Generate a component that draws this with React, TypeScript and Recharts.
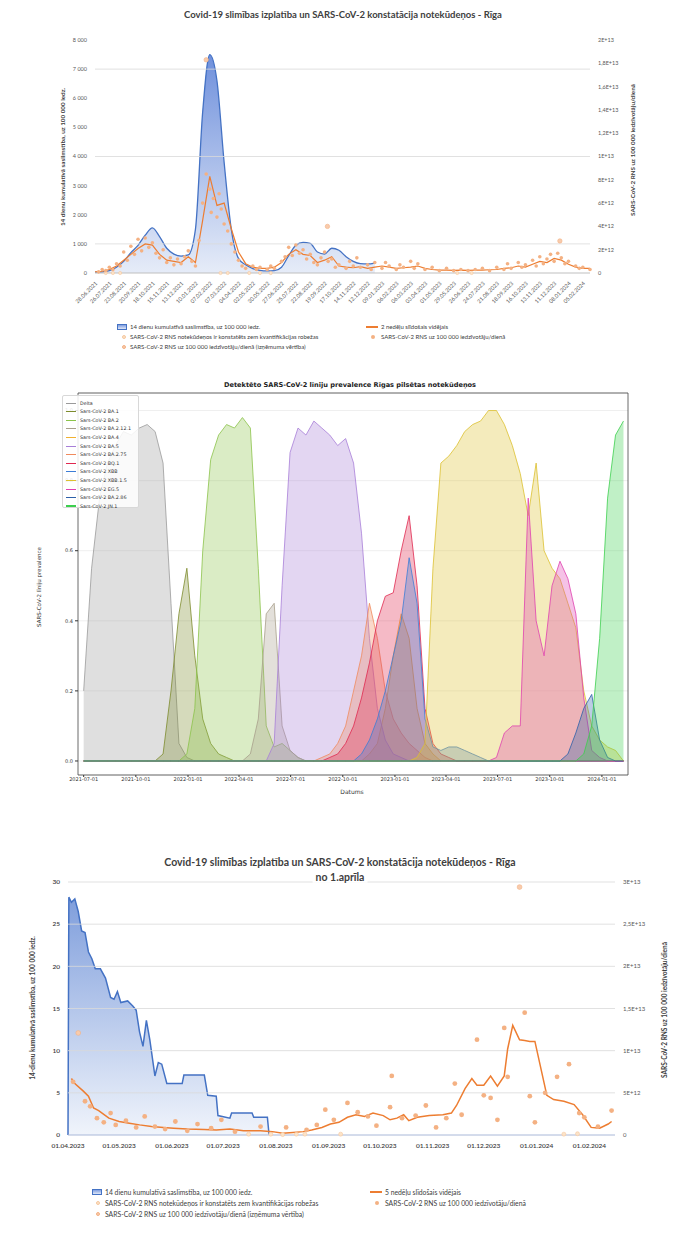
import React from "react"
import {
  Area,
  CartesianGrid,
  ComposedChart,
  Line,
  ReferenceArea,
  ReferenceLine,
  Scatter,
  XAxis,
  YAxis,
} from "recharts"

const DAY = 86400000

// ---------- chart 1: Covid-19 vs RNA, whole period (2-week steps from 28.06.2021)
const c1Start = "2021-06-28"
const c1Blue = [
  30, 40, 80, 200, 400, 700, 950, 1300, 1550, 1250, 850, 650, 580, 620, 1500, 5500, 7500, 6600, 3800, 1500,
  500, 280, 150, 90, 70, 80, 200, 600, 950, 1050, 1020, 720, 650, 850, 780, 560, 400, 320, 310, 340,
]
// RNA per 100 000 / day, in units of 1E+12
const c1Avg = [
  0.1, 0.15, 0.3, 0.6, 1.1, 1.6, 2.1, 2.5, 2.4, 1.6, 1.1, 1.0, 0.9, 1.4, 0.9, 4.5, 8.3, 5.8, 6.0, 3.8,
  1.8, 0.8, 0.5, 0.4, 0.4, 0.5, 0.9, 1.6, 2.0, 1.6, 1.5, 0.9, 1.1, 1.4, 0.6, 0.5, 0.45, 0.55, 0.4, 0.5,
  0.6, 0.5, 0.4, 0.45, 0.5, 0.6, 0.4, 0.3, 0.25, 0.25, 0.23, 0.25, 0.23, 0.25, 0.25, 0.28, 0.3, 0.4, 0.45, 0.6,
  0.5, 0.75, 1.0, 0.9, 1.25, 1.1, 0.75, 0.5, 0.4, 0.4,
]
const c1Rna: [number, number][] = [
  [0.5, 0.1], [1, 0.3], [1.5, 0.2], [2, 0.5], [2.5, 0.3], [3, 0.8], [3.5, 0.6], [4, 1.8], [4.5, 1.1], [5, 2.3],
  [5.5, 1.6], [6, 2.9], [6.5, 1.9], [7, 3.0], [7.5, 2.2], [8, 2.6], [8.5, 1.7], [9, 1.3], [9.5, 2.0], [10, 0.9],
  [10.5, 1.3], [11, 0.7], [11.5, 1.2], [12, 0.8], [12.5, 1.4], [13, 1.9], [13.5, 1.0], [14, 0.6], [14.5, 2.8], [15, 6.0],
  [15.5, 8.5], [16, 7.2], [16.2, 5.2], [16.5, 6.4], [17, 4.8], [17.3, 6.8], [17.6, 5.5], [18, 4.2], [18.5, 3.6], [19, 2.5],
  [19.5, 1.8], [20, 1.1], [20.5, 0.6], [21, 0.4], [22, 0.6], [22.5, 0.3], [23, 0.5], [24, 0.3], [24.5, 0.6], [25, 0.4],
  [26, 1.0], [26.5, 1.4], [27, 2.2], [27.5, 1.5], [28, 2.4], [28.5, 1.7], [29, 2.0], [29.5, 1.2], [30, 1.6], [30.5, 0.9],
  [31, 0.7], [31.5, 1.3], [32, 1.8], [32.5, 1.0], [33, 1.2], [33.5, 0.5], [34, 0.7], [35, 0.4], [35.5, 1.0], [36, 0.6],
  [36.5, 1.3], [37, 0.5], [38, 0.7], [38.5, 0.3], [39, 0.9], [40, 0.4], [40.5, 0.9], [41, 0.6], [42, 0.3], [42.5, 0.7],
  [43, 0.5], [44, 1.0], [44.5, 0.4], [45, 0.8], [46, 0.3], [47, 0.5], [48, 0.2], [49, 0.4], [50, 0.2], [51, 0.3],
  [52, 0.2], [53, 0.3], [54, 0.4], [55, 0.2], [56, 0.5], [57, 0.3], [57.5, 0.8], [58, 0.4], [59, 0.9], [59.5, 0.5],
  [60, 0.7], [61, 1.1], [61.5, 0.6], [62, 1.4], [62.5, 0.8], [63, 1.2], [63.5, 1.6], [64, 1.0], [64.5, 1.7], [65, 1.3],
  [65.5, 0.8], [66, 1.0], [67, 0.6], [67.5, 0.4], [68, 0.5], [69, 0.3],
]
const c1Out: [number, number][] = [[15.5, 18.3], [32.4, 4.0], [64.8, 2.75]]
const c1Lod: [number, number][] = [[1.5, 0], [2.5, 0], [3.5, 0], [17.5, 0], [18.5, 0], [21.5, 0], [23, 0], [24.5, 0], [50.5, 0], [52.5, 0]]
const c1LeftTicks = [0, 1000, 2000, 3000, 4000, 5000, 6000, 7000, 8000]
const c1RightTicks = [0, 2, 4, 6, 8, 10, 12, 14, 16, 18, 20]
const c1GridLines = [1000, 4000, 7000]

// ---------- chart 2: lineage prevalence (2-week steps from 2021-07-01)
const c2Start = "2021-07-01"
const c2TickLabels = [
  "2021-07-01", "2021-10-01", "2022-01-01", "2022-04-01", "2022-07-01", "2022-10-01",
  "2023-01-01", "2023-04-01", "2023-07-01", "2023-10-01", "2024-01-01",
]
const c2Names = [
  "Delta", "Sars-CoV-2 BA.1", "Sars-CoV-2 BA.2", "Sars-CoV-2 BA.2.12.1", "Sars-CoV-2 BA.4", "Sars-CoV-2 BA.5",
  "Sars-CoV-2 BA.2.75", "Sars-CoV-2 BQ.1", "Sars-CoV-2 XBB", "Sars-CoV-2 XBB.1.5", "Sars-CoV-2 EG.5",
  "Sars-CoV-2 BA.2.86", "Sars-CoV-2 JN.1",
]
const c2Colors = [
  "#9a9a9a", "#7d8c2d", "#8bc34a", "#a89f8c", "#f0b030", "#a87fd8",
  "#f08a5d", "#e0284f", "#3c7dd6", "#dcc030", "#e040b0", "#2d5fa8", "#3ccf4e",
]
const c2FirstStep = [0, 10, 13, 21, 36, 24, 30, 31, 35, 42, 52, 61, 63]
const delta = [0.2, 0.55, 0.75, 0.85, 0.9, 0.94, 0.93, 0.95, 0.96, 0.94, 0.85, 0.45, 0.05, 0.01]
const ba1 = [0.02, 0.2, 0.42, 0.55, 0.3, 0.12, 0.05, 0.02, 0.01]
const ba2 = [0.02, 0.15, 0.6, 0.86, 0.93, 0.96, 0.95, 0.98, 0.95, 0.55, 0.1, 0.04, 0.05, 0.03, 0.01]
const ba2121 = [0.02, 0.12, 0.42, 0.45, 0.1, 0.03, 0.01]
const ba4 = [0.02, 0.05, 0.15, 0.3, 0.42, 0.35, 0.15, 0.05, 0.02]
const ba5 = [0.05, 0.5, 0.88, 0.95, 0.93, 0.97, 0.95, 0.93, 0.9, 0.92, 0.85, 0.65, 0.35, 0.15, 0.06, 0.02, 0.01]
const ba275 = [0.01, 0.02, 0.05, 0.1, 0.2, 0.3, 0.45, 0.35, 0.2, 0.12, 0.08, 0.05, 0.03, 0.01]
const bq1 = [0.01, 0.02, 0.05, 0.1, 0.18, 0.28, 0.4, 0.47, 0.48, 0.6, 0.7, 0.5, 0.15, 0.05, 0.02, 0.01]
const xbb = [0.02, 0.06, 0.12, 0.2, 0.3, 0.4, 0.58, 0.45, 0.12, 0.04, 0.03, 0.04, 0.04, 0.03, 0.02, 0.01]
const xbb15 = [
  0.01, 0.05, 0.55, 0.85, 0.87, 0.9, 0.94, 0.96, 0.97, 1.0, 1.0, 0.96, 0.9, 0.82, 0.7, 0.85, 0.6, 0.55, 0.52, 0.45,
  0.38, 0.2, 0.1, 0.06, 0.04, 0.03,
]
const eg5 = [0.01, 0.08, 0.1, 0.1, 0.75, 0.4, 0.3, 0.5, 0.57, 0.52, 0.42, 0.18, 0.03, 0.01]
const ba286 = [0.02, 0.08, 0.15, 0.19, 0.06, 0.01]
const jn1 = [0.02, 0.1, 0.35, 0.75, 0.93, 0.97]
const c2Values = [delta, ba1, ba2, ba2121, ba4, ba5, ba275, bq1, xbb, xbb15, eg5, ba286, jn1]
const c2Steps = 69

// ---------- chart 3: from 1 April 2023 (day numbers from 01.04.2023)
const c3Start = "2023-04-01"
const c3TickLabels = [
  "01.04.2023", "01.05.2023", "01.06.2023", "01.07.2023", "01.08.2023", "01.09.2023",
  "01.10.2023", "01.11.2023", "01.12.2023", "01.01.2024", "01.02.2024",
]
const c3Blue: [number, number][] = [
  [0, 0], [0.5, 28.2], [2, 27.6], [4, 28], [6, 26.5], [8, 24.2], [10, 24], [12, 21.7], [14, 20.9], [16, 19.7],
  [19, 19.7], [22, 18.6], [25, 16.3], [27, 16.1], [29, 17], [31, 15.7], [35, 15.9], [38, 15.3], [40, 14.8], [42, 12.2],
  [44, 10.5], [46, 13.6], [48, 11.3], [51, 7], [53, 8.6], [55, 8.4], [58, 6.1], [67, 6.1], [68, 7.1], [80, 7.1],
  [82, 4.7], [87, 4.6], [88, 2.3], [95, 2.0], [96, 2.6], [108, 2.6], [109, 2.1], [117, 2.1], [118, 0],
]
const c3Avg: [number, number][] = [
  [2, 6.7], [4, 6.1], [9, 5.2], [12, 4.6], [15, 3.2], [18, 2.9], [22, 2.3], [24, 2.0], [30, 1.6], [36, 1.4],
  [42, 1.2], [49, 1.0], [56, 0.9], [62, 0.8], [70, 0.7], [80, 0.65], [87, 0.6], [95, 0.7], [103, 0.5], [113, 0.5],
  [120, 0.4], [126, 0.2], [132, 0.3], [138, 0.4], [143, 0.6], [149, 0.9], [154, 1.3], [159, 1.5], [164, 2.1], [169, 2.4],
  [174, 2.2], [179, 2.6], [185, 2.3], [189, 1.8], [193, 2.0], [197, 2.4], [200, 1.7], [205, 2.1], [212, 2.3], [220, 2.4],
  [225, 2.6], [228, 3.5], [233, 5.5], [237, 6.7], [240, 5.9], [244, 5.9], [248, 7.0], [252, 5.8], [256, 7.0], [258, 10.2],
  [261, 13.0], [265, 11.3], [268, 11.2], [271, 11.1], [274, 11.1], [281, 4.7], [285, 4.2], [291, 4.0], [297, 3.6], [302, 2.4],
  [307, 0.9], [312, 0.8], [317, 1.3], [319, 1.6],
]
const c3Rna: [number, number][] = [
  [3, 6.3], [10, 4.0], [13, 3.4], [17, 2.0], [21, 1.5], [25, 2.6], [28, 1.2], [34, 1.7], [40, 0.9], [45, 2.2],
  [51, 1.0], [57, 0.7], [63, 1.6], [70, 0.5], [76, 1.3], [84, 0.8], [90, 1.8], [98, 0.4], [113, 1.0],
  [128, 0.9], [140, 0.6], [146, 1.2], [151, 3.0], [156, 1.8], [164, 3.8], [170, 2.7], [176, 2.2], [181, 1.1],
  [189, 3.3], [190, 7.0], [196, 2.0], [204, 2.3], [210, 3.5], [216, 0.9], [222, 2.0], [227, 6.1], [231, 2.4],
  [240, 11.3], [244, 4.7], [248, 4.4], [252, 1.8], [256, 12.7], [258, 6.9], [268, 14.5], [271, 4.6], [274, 1.5],
  [280, 5.0], [287, 6.9], [294, 8.4], [300, 2.6], [303, 2.1], [311, 1.0], [319, 2.9],
]
const c3Out: [number, number][] = [[6, 12.1], [265, 29.4]]
const c3Lod: [number, number][] = [[106, 0.1], [119, 0.1], [126, 0.05], [134, 0.1], [139, 0.1], [160, 0.1], [291, 0.1], [299, 0.15]]
const c3LeftTicks = [0, 5, 10, 15, 20, 25, 30]
const c3RightTicks = [0, 5, 10, 15, 20, 25, 30]

// ---------- helpers
const dayOf = (s: string, from: string) => (Date.parse(s) - Date.parse(from)) / DAY

function fmtDate(ms: number) {
  const d = new Date(ms)
  const dd = String(d.getUTCDate()).padStart(2, "0")
  const mm = String(d.getUTCMonth() + 1).padStart(2, "0")
  return `${dd}.${mm}.${d.getUTCFullYear()}`
}

// value in 1E+12 units -> excel-ish label
function sci(v: number) {
  if (v === 0) return "0"
  if (v < 10) return `${v}E+12`
  return `${String(v / 10).replace(".", ",")}E+13`
}

const dot = (fill: string, r: number, stroke = "none") => (p: any) =>
  <circle cx={p.cx} cy={p.cy} r={r} fill={fill} stroke={stroke} strokeWidth={0.6} />

type TxtProps = {
  x: number
  y: number
  size: number
  children: React.ReactNode
  bold?: boolean
  color?: string
  rotate?: number
  family?: string
  start?: boolean
  bg?: boolean
}

function Txt(props: TxtProps) {
  const shift = props.start ? "translate(0,-50%)" : "translate(-50%,-50%)"
  return (
    <div
      style={{
        position: "absolute",
        left: props.x,
        top: props.y,
        fontSize: props.size,
        fontWeight: props.bold ? 700 : 400,
        color: props.color ?? "#404040",
        fontFamily: props.family,
        whiteSpace: "nowrap",
        lineHeight: 1,
        background: props.bg ? "#fff" : undefined,
        padding: props.bg ? "0 3px" : undefined,
        transform: `${shift}${props.rotate ? ` rotate(${props.rotate}deg)` : ""}`,
      }}
    >
      {props.children}
    </div>
  )
}

const blueBox = (x: number, y: number) => (
  <div style={{ position: "absolute", left: x, top: y - 3, width: 10, height: 6, background: "linear-gradient(#7f9ddf,#dfe7f7)", border: "1px solid #4472c4", boxSizing: "border-box" }} />
)
const orangeLine = (x: number, y: number) => (
  <div style={{ position: "absolute", left: x, top: y - 0.75, width: 12, height: 1.5, background: "#ed7d31" }} />
)
const legendDot = (x: number, y: number, color: string, border = "none") => (
  <div style={{ position: "absolute", left: x - 2, top: y - 2, width: 4, height: 4, borderRadius: 2, background: color, border, boxSizing: "border-box" }} />
)

// ---------- chart 1
function Chart1() {
  const t0 = Date.parse(c1Start)
  const rows = c1Avg.map((avg, i) => ({ i, avg, blue: i < c1Blue.length ? c1Blue[i] : undefined }))
  const ticks = rows.map((r) => r.i).filter((i) => i % 2 === 0)
  const pts = (a: [number, number][]) => a.map(([i, v]) => ({ i, v }))
  return (
    <ComposedChart width={681} height={320} data={rows} margin={{ top: 40, right: 0, bottom: 0, left: 0 }}>
      <defs>
        <linearGradient id="g1" x1="0" y1="0" x2="0" y2="1">
          <stop offset="0" stopColor="#6f90dc" />
          <stop offset="1" stopColor="#e6ecf8" />
        </linearGradient>
      </defs>
      <XAxis
        type="number"
        dataKey="i"
        domain={[0, c1Avg.length - 1]}
        ticks={ticks}
        interval={0}
        tickFormatter={(v: number) => fmtDate(t0 + v * 14 * DAY)}
        angle={-45}
        textAnchor="end"
        height={47}
        tick={{ fontSize: 5.5, fill: "#595959" }}
        tickLine={false}
        axisLine={{ stroke: "#bfbfbf" }}
      />
      <YAxis
        yAxisId="l"
        domain={[0, 8000]}
        ticks={c1LeftTicks}
        width={95}
        tickFormatter={(v: number) => (v === 0 ? "0" : `${v / 1000} 000`)}
        tick={{ fontSize: 5.5, fill: "#595959" }}
        tickLine={false}
        axisLine={false}
      />
      <YAxis
        yAxisId="r"
        orientation="right"
        domain={[0, 20]}
        ticks={c1RightTicks}
        width={91}
        tickFormatter={sci}
        tick={{ fontSize: 5.5, fill: "#595959" }}
        tickLine={false}
        axisLine={false}
      />
      {c1GridLines.map((v) => (
        <ReferenceLine key={v} yAxisId="l" y={v} stroke="#d9d9d9" strokeWidth={0.8} />
      ))}
      <Area yAxisId="l" dataKey="blue" type="monotone" stroke="#4472c4" strokeWidth={1.3} fill="url(#g1)" fillOpacity={1} isAnimationActive={false} dot={false} activeDot={false} />
      <Scatter yAxisId="r" data={pts(c1Lod)} dataKey="v" shape={dot("#fbe3c8", 1.6, "#f6c89f")} isAnimationActive={false} />
      <Scatter yAxisId="r" data={pts(c1Rna)} dataKey="v" shape={dot("#f4b183", 1.8)} isAnimationActive={false} />
      <Scatter yAxisId="r" data={pts(c1Out)} dataKey="v" shape={dot("#f8cbad", 2.2, "#f4b183")} isAnimationActive={false} />
      <Line yAxisId="r" dataKey="avg" type="linear" stroke="#ed7d31" strokeWidth={1.2} dot={false} activeDot={false} isAnimationActive={false} />
    </ComposedChart>
  )
}

// ---------- chart 2
function Chart2() {
  const rows = Array.from({ length: c2Steps }, (_, i) => {
    const row: Record<string, number> = { day: i * 14 }
    c2Values.forEach((vals, s) => {
      const k = i - c2FirstStep[s]
      row[`s${s}`] = k >= 0 && k < vals.length ? vals[k] : 0
    })
    return row
  })
  const tickDays = c2TickLabels.map((s) => dayOf(s, c2Start))
  return (
    <ComposedChart width={681} height={440} data={rows} margin={{ top: 28, right: 53, bottom: 0, left: 0 }}>
      <CartesianGrid vertical={false} stroke="#e4e4e4" strokeWidth={0.6} />
      <XAxis
        type="number"
        dataKey="day"
        domain={[-10, 960]}
        ticks={tickDays}
        interval={0}
        tickFormatter={(v: number) => c2TickLabels[tickDays.indexOf(v)] ?? ""}
        height={30}
        tick={{ fontSize: 5, fill: "#333" }}
        tickSize={2}
        tickMargin={0}
        tickLine={{ stroke: "#333" }}
        axisLine={false}
      />
      <YAxis
        domain={[-0.04, 1.05]}
        ticks={[0, 0.2, 0.4, 0.6, 0.8, 1.0]}
        tickFormatter={(v: number) => v.toFixed(1)}
        width={78}
        tick={{ fontSize: 5, fill: "#333" }}
        tickSize={3}
        tickLine={{ stroke: "#333" }}
        axisLine={false}
      />
      {c2Values.map((_, s) => (
        <Area
          key={s}
          dataKey={`s${s}`}
          type="linear"
          stroke={c2Colors[s]}
          strokeWidth={0.8}
          fill={c2Colors[s]}
          fillOpacity={0.32}
          dot={false}
          activeDot={false}
          isAnimationActive={false}
        />
      ))}
      <ReferenceArea x1={-10} x2={960} y1={-0.04} y2={1.05} fill="none" stroke="#444" strokeWidth={0.8} />
    </ComposedChart>
  )
}

function Chart2Legend() {
  return (
    <div style={{ position: "absolute", left: 62, top: 395, width: 77, height: 113, background: "rgba(255,255,255,0.85)", border: "1px solid #d8d8d8", borderRadius: 2, boxSizing: "border-box", fontFamily: "DejaVu Sans" }}>
      {c2Names.map((n, k) => (
        <div key={n} style={{ position: "absolute", left: 3, top: 3 + k * 8.6, height: 8, display: "flex", alignItems: "center" }}>
          <div style={{ width: 10, height: k === 12 ? 2 : 1, background: c2Colors[k], marginRight: 4 }} />
          <span style={{ fontSize: 4.8, color: "#333", whiteSpace: "nowrap" }}>{n}</span>
        </div>
      ))}
    </div>
  )
}

// ---------- chart 3
function Chart3() {
  const map = new Map<number, Record<string, number>>()
  const put = (d: number, k: string, v: number) => map.set(d, { ...(map.get(d) ?? { day: d }), [k]: v })
  c3Blue.forEach(([d, v]) => put(d, "blue", v))
  c3Avg.forEach(([d, v]) => put(d, "avg", v))
  const rows = [...map.values()].sort((a, b) => a.day - b.day)
  const tickDays = c3TickLabels.map((s) => {
    const [dd, mm, yy] = s.split(".")
    return dayOf(`${yy}-${mm}-${dd}`, c3Start)
  })
  const pts = (a: [number, number][]) => a.map(([day, v]) => ({ day, v }))
  return (
    <ComposedChart width={681} height={325} data={rows} margin={{ top: 40, right: 0, bottom: 0, left: 0 }}>
      <defs>
        <linearGradient id="g3" x1="0" y1="0" x2="0" y2="1">
          <stop offset="0" stopColor="#7f9edc" />
          <stop offset="1" stopColor="#f0f4fb" />
        </linearGradient>
      </defs>
      <XAxis
        type="number"
        dataKey="day"
        domain={[0, 321]}
        ticks={tickDays}
        interval={0}
        tickFormatter={(v: number) => c3TickLabels[tickDays.indexOf(v)] ?? ""}
        height={32}
        tick={{ fontSize: 6.5, fill: "#3a3a3a", fontWeight: 600 }}
        tickLine={false}
        axisLine={{ stroke: "#a9b8d8" }}
      />
      <YAxis
        yAxisId="l"
        domain={[0, 30]}
        ticks={c3LeftTicks}
        width={68}
        tick={{ fontSize: 6.5, fill: "#3a3a3a", fontWeight: 600 }}
        tickLine={false}
        axisLine={false}
      />
      <YAxis
        yAxisId="r"
        orientation="right"
        domain={[0, 30]}
        ticks={c3RightTicks}
        width={66}
        tickFormatter={sci}
        tick={{ fontSize: 6, fill: "#595959" }}
        tickLine={false}
        axisLine={false}
      />
      {c3LeftTicks.filter((v) => v > 0).map((v) => (
        <ReferenceLine key={v} yAxisId="l" y={v} stroke="#d9d9d9" strokeWidth={0.8} />
      ))}
      <Area yAxisId="l" dataKey="blue" type="linear" connectNulls stroke="#4472c4" strokeWidth={1.5} fill="url(#g3)" fillOpacity={1} dot={false} activeDot={false} isAnimationActive={false} />
      <Scatter yAxisId="r" data={pts(c3Lod)} dataKey="v" shape={dot("#fbe3c8", 2, "#f6c89f")} isAnimationActive={false} />
      <Scatter yAxisId="r" data={pts(c3Rna)} dataKey="v" shape={dot("#f4b183", 2.4)} isAnimationActive={false} />
      <Scatter yAxisId="r" data={pts(c3Out)} dataKey="v" shape={dot("#f8cbad", 2.4, "#f4b183")} isAnimationActive={false} />
      <Line yAxisId="r" dataKey="avg" type="linear" connectNulls stroke="#ed7d31" strokeWidth={1.5} dot={false} activeDot={false} isAnimationActive={false} />
    </ComposedChart>
  )
}

export default function App() {
  return (
    <div style={{ position: "absolute", left: 0, top: 0, width: 681, height: 1233, background: "#fff", fontFamily: "Lato", overflow: "hidden" }}>
      {/* chart 1 */}
      <div style={{ position: "absolute", left: 0, top: 0 }}>
        <Chart1 />
      </div>
      <Txt x={343} y={15} size={9.5} bold>Covid-19 slimības izplatība un SARS-CoV-2 konstatācija notekūdeņos - Rīga</Txt>
      <Txt x={63} y={157} size={6.3} bold rotate={-90}>14 dienu kumulatīvā saslimstība, uz 100 000 iedz.</Txt>
      <Txt x={633} y={150} size={6.3} bold rotate={-90}>SARS-CoV-2 RNS uz 100 000 iedzīvotāju/dienā</Txt>
      {blueBox(117, 327)}
      <Txt x={130} y={327} size={6} start>14 dienu kumulatīvā saslimstība, uz 100 000 iedz.</Txt>
      {orangeLine(366, 327)}
      <Txt x={381} y={327} size={6} start>2 nedēļu slīdošais vidējais</Txt>
      {legendDot(124, 337, "#fbe3c8", "0.6px solid #f6c89f")}
      <Txt x={130} y={337} size={6} start>SARS-CoV-2 RNS notekūdeņos ir konstatēts zem kvantifikācijas robežas</Txt>
      {legendDot(373, 337, "#f4b183")}
      <Txt x={381} y={337} size={6} start>SARS-CoV-2 RNS uz 100 000 iedzīvotāju/dienā</Txt>
      {legendDot(124, 347, "#f8cbad", "0.6px solid #f4b183")}
      <Txt x={130} y={347} size={6} start>SARS-CoV-2 RNS uz 100 000 iedzīvotāju/dienā (izņēmuma vērtība)</Txt>

      {/* chart 2 */}
      <div style={{ position: "absolute", left: 0, top: 365, fontFamily: "DejaVu Sans" }}>
        <Chart2 />
      </div>
      <Txt x={350} y={385} size={6.6} bold color="#222" family="DejaVu Sans">Detektēto SARS-CoV-2 līniju prevalence Rīgas pilsētas notekūdeņos</Txt>
      <Txt x={40} y={587} size={5.5} color="#333" rotate={-90} family="DejaVu Sans">SARS-CoV-2 līniju prevalence</Txt>
      <Txt x={352} y={792} size={6} color="#333" family="DejaVu Sans">Datums</Txt>
      <Chart2Legend />

      {/* chart 3 */}
      <div style={{ position: "absolute", left: 0, top: 842 }}>
        <Chart3 />
      </div>
      <Txt x={340} y={862} size={10.5} bold>Covid-19 slimības izplatība un SARS-CoV-2 konstatācija notekūdeņos - Rīga</Txt>
      <Txt x={340} y={877} size={10.5} bold bg>no 1.aprīla</Txt>
      <Txt x={33} y={1008} size={6.5} bold rotate={-90}>14-dienu kumulatīvā saslimstība, uz 100 000 iedz.</Txt>
      <Txt x={665} y={1010} size={6.5} bold rotate={-90}>SARS-CoV-2 RNS uz 100 000 iedzīvotāju/dienā</Txt>
      {blueBox(92, 1192)}
      <Txt x={105} y={1192} size={6.8} start>14 dienu kumulatīvā saslimstība, uz 100 000 iedz.</Txt>
      {orangeLine(370, 1192)}
      <Txt x={385} y={1192} size={6.8} start>5 nedēļu slīdošais vidējais</Txt>
      {legendDot(98, 1203, "#fbe3c8", "0.6px solid #f6c89f")}
      <Txt x={105} y={1203} size={6.8} start>SARS-CoV-2 RNS notekūdeņos ir konstatēts zem kvantifikācijas robežas</Txt>
      {legendDot(377, 1203, "#f4b183")}
      <Txt x={385} y={1203} size={6.8} start>SARS-CoV-2 RNS uz 100 000 iedzīvotāju/dienā</Txt>
      {legendDot(98, 1214, "#f8cbad", "0.6px solid #f4b183")}
      <Txt x={105} y={1214} size={6.8} start>SARS-CoV-2 RNS uz 100 000 iedzīvotāju/dienā (izņēmuma vērtība)</Txt>
    </div>
  )
}
